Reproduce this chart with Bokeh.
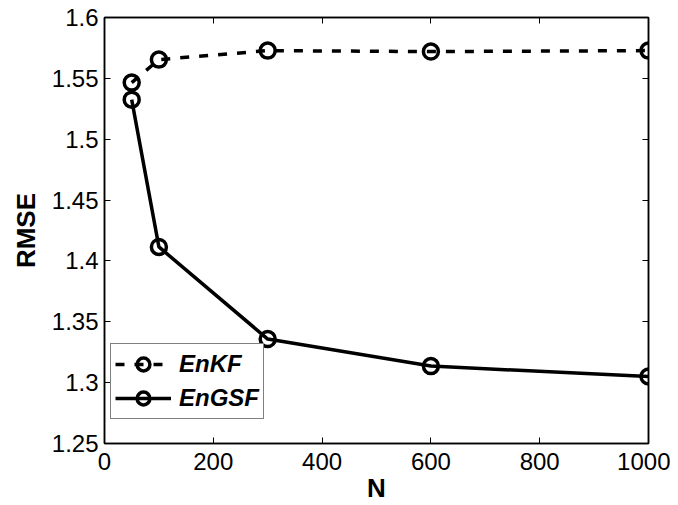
from bokeh.plotting import figure
from bokeh.models import LinearAxis, FixedTicker, CustomJSTickFormatter, Legend, LegendItem
from bokeh.embed import file_html
from bokeh.resources import INLINE

N = [50, 100, 300, 600, 1000]
enkf = [1.5465, 1.5654, 1.5728, 1.5720, 1.5728]
engsf = [1.5325, 1.4115, 1.3358, 1.3136, 1.3050]
x_ticks = [0, 200, 400, 600, 800, 1000]
y_ticks = [1.25, 1.3, 1.35, 1.4, 1.45, 1.5, 1.55, 1.6]

FONT = "Liberation Sans"

p = figure(width=670, height=505, output_backend="svg", toolbar_location=None,
           x_range=(0, 1000), y_range=(1.25, 1.6),
           min_border_left=104, min_border_right=22, min_border_top=17, min_border_bottom=61)
p.background_fill_color = "white"
p.border_fill_color = "white"
p.outline_line_color = "black"
p.outline_line_width = 1.5
p.grid.visible = False

l1 = p.line(N, enkf, line_color="black", line_width=3.5, line_dash="9 10")
m1 = p.scatter(N, enkf, marker="circle", size=15, fill_color=None, line_color="black", line_width=3.5)
l2 = p.line(N, engsf, line_color="black", line_width=3.5)
m2 = p.scatter(N, engsf, marker="circle", size=15, fill_color=None, line_color="black", line_width=3.5)

fmt = CustomJSTickFormatter(code="var s = tick.toFixed(2); if (s.endsWith('0')) s = s.slice(0,-1); return s;")

for ax in [p.xaxis[0], p.yaxis[0]]:
    ax.major_tick_in = 6
    ax.major_tick_out = 0
    ax.minor_tick_line_color = None
    ax.axis_line_color = "black"
    ax.axis_line_width = 1.5
    ax.major_label_text_font = FONT
    ax.major_label_text_font_size = "24px"
    ax.major_label_text_color = "black"
    ax.axis_label_text_font = FONT
    ax.axis_label_text_font_size = "26px"
    ax.axis_label_text_font_style = "bold"
    ax.axis_label_text_color = "black"

p.xaxis[0].ticker = FixedTicker(ticks=x_ticks)
p.yaxis[0].ticker = FixedTicker(ticks=y_ticks)
p.yaxis[0].formatter = fmt
p.xaxis[0].axis_label = "N"
p.yaxis[0].axis_label = "RMSE"
p.xaxis[0].major_label_standoff = 9
p.yaxis[0].major_label_standoff = 6
p.xaxis[0].axis_label_standoff = 0
p.yaxis[0].axis_label_standoff = 8

top = LinearAxis(ticker=FixedTicker(ticks=x_ticks), major_tick_in=6, major_tick_out=0,
                 minor_tick_line_color=None, major_label_text_color=None,
                 axis_line_color="black", axis_line_width=1.5)
right = LinearAxis(ticker=FixedTicker(ticks=y_ticks), major_tick_in=6, major_tick_out=0,
                   minor_tick_line_color=None, major_label_text_color=None,
                   axis_line_color="black", axis_line_width=1.5)
p.add_layout(top, "above")
p.add_layout(right, "right")

legend = Legend(items=[LegendItem(label="EnKF", renderers=[l1, m1]),
                       LegendItem(label="EnGSF", renderers=[l2, m2])],
                location=(6, 24))
legend.label_text_font = FONT
legend.label_text_font_size = "24px"
legend.label_text_font_style = "bold italic"
legend.label_text_color = "black"
legend.border_line_color = "black"
legend.border_line_width = 1
legend.background_fill_alpha = 1
legend.glyph_width = 56
legend.glyph_height = 32
legend.label_standoff = 8
legend.padding = 4
legend.spacing = 2
legend.margin = 0
p.add_layout(legend, "center")

open("out.html", "w").write(file_html(p, INLINE))
